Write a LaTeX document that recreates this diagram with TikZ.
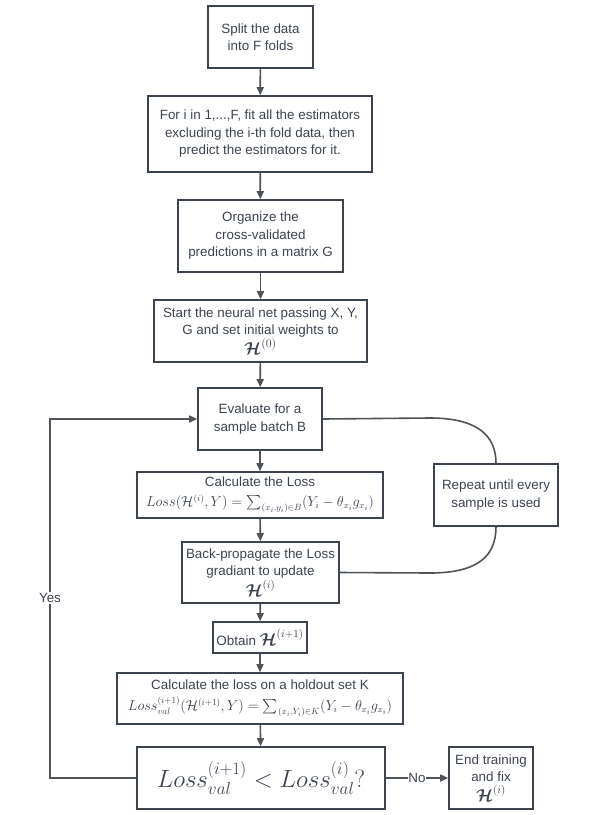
\documentclass[tikz,border=0pt]{standalone}
\usepackage{amsmath}
\usepackage{bm}
\usepackage{fontspec}
\setmainfont{Liberation Sans}
\usetikzlibrary{arrows.meta,shadows}
\definecolor{bordc}{HTML}{3C4450}
\definecolor{linec}{HTML}{4F5358}
\definecolor{txtc}{HTML}{3D4450}
\newcommand{\HH}{\bm{\mathcal{H}}}
\begin{document}
\begin{tikzpicture}[x=1pt,y=1pt,
  box/.style={draw=bordc, line width=1.6pt, fill=white, align=center,
    inner sep=0.5pt, text=txtc,
    font=\fontsize{13.4}{17.5}\selectfont,
    drop shadow={shadow xshift=1.2pt, shadow yshift=-1.2pt, opacity=0.18, fill=black!60}},
  arr/.style={draw=linec, line width=1.6pt, -{Triangle[length=8pt,width=7pt]}},
  conn/.style={draw=linec, line width=1.6pt},
  lbl/.style={fill=white, text=txtc, inner sep=1.5pt, font=\fontsize{13.4}{16}\selectfont}]
\useasboundingbox (0,0) rectangle (607,-815);
\node[box, minimum width=105pt, minimum height=62pt] (b1) at (260.5,-37) {Split the data\\into F folds};
\node[box, minimum width=224pt, minimum height=76pt] (b2) at (260,-134) {For i in 1,...,F, fit all the estimators\\excluding the i-th fold data, then\\predict the estimators for it.};
\node[box, minimum width=165pt, minimum height=72pt] (b3) at (260.5,-236) {Organize the\\cross-validated\\predictions in a matrix G};
\node[box, minimum width=213pt, minimum height=62pt] (b4) at (260.5,-331) {Start the neural net passing X, Y,\\G and set initial weights to\\[0pt]{\fontsize{18}{18}\selectfont$\HH^{(0)}$}};
\node[box, minimum width=124pt, minimum height=62pt] (b5) at (260,-419) {Evaluate for a\\sample batch B};
\node[box, minimum width=246pt, minimum height=46pt] (b6) at (260,-495) {Calculate the Loss\\[2.5pt]{\fontsize{13.4}{16}\selectfont$Loss(\mathcal{H}^{(i)},Y)=\textstyle\sum_{(x_i,y_i)\in B}(Y_i-\theta_{x_i}g_{x_i})$}};
\node[box, minimum width=124pt, minimum height=62pt] (rp) at (496,-495) {Repeat until every\\sample is used};
\node[box, minimum width=157pt, minimum height=61pt] (b7) at (260.5,-572.5) {Back-propagate the Loss\\gradiant to update\\[1pt]{\fontsize{16}{16}\selectfont$\HH^{(i)}$}};
\node[box, minimum width=94pt, minimum height=31pt] (b8) at (260,-637.5) {Obtain {\fontsize{16}{16}\selectfont$\HH^{(i+1)}$}};
\node[box, minimum width=286pt, minimum height=51pt] (b9) at (260,-698.5) {Calculate the loss on a holdout set K\\[3pt]{\fontsize{13.4}{16}\selectfont$Loss^{(i+1)}_{val}(\mathcal{H}^{(i+1)},Y)=\textstyle\sum_{(x_i,Y_i)\in K}(Y_i-\theta_{x_i}g_{x_i})$}};
\node[box, minimum width=248pt, minimum height=62pt, font=\fontsize{27}{32}\selectfont] (b10) at (261,-778) {$Loss^{(i+1)}_{val}<Loss^{(i)}_{val}?$};
\node[box, minimum width=84pt, minimum height=62pt] (en) at (491,-778) {End training\\and fix\\[2pt]{\fontsize{16}{16}\selectfont$\HH^{(i)}$}};
\draw[arr] (b1) -- (b2);
\draw[arr] (b2) -- (b3);
\draw[arr] (b3) -- (b4);
\draw[arr] (b4) -- (b5);
\draw[arr] (b5) -- (b6);
\draw[arr] (b6) -- (b7);
\draw[arr] (b7) -- (b8);
\draw[arr] (b8) -- (b9);
\draw[arr] (b9) -- (b10);
\draw[arr] (b10) -- node[lbl, inner sep=0.5pt] (no) {No} (en);
\coordinate (yc) at (50,-598);
\draw[arr] (b10.west) -- (b10.west -| yc) -- (b5.west -| yc) -- (b5.west);
\node[lbl] (yes) at (yc) {Yes};
\coordinate (tc) at (430,-418);
\coordinate (bc) at (430,-573);
\draw[conn] (b5.east) -- (tc) .. controls (478,-418) and (496,-436) .. (rp.north);
\draw[conn] (rp.south) .. controls (496,-556) and (478,-573) .. (bc) -- (b7.east);
\end{tikzpicture}
\end{document}
